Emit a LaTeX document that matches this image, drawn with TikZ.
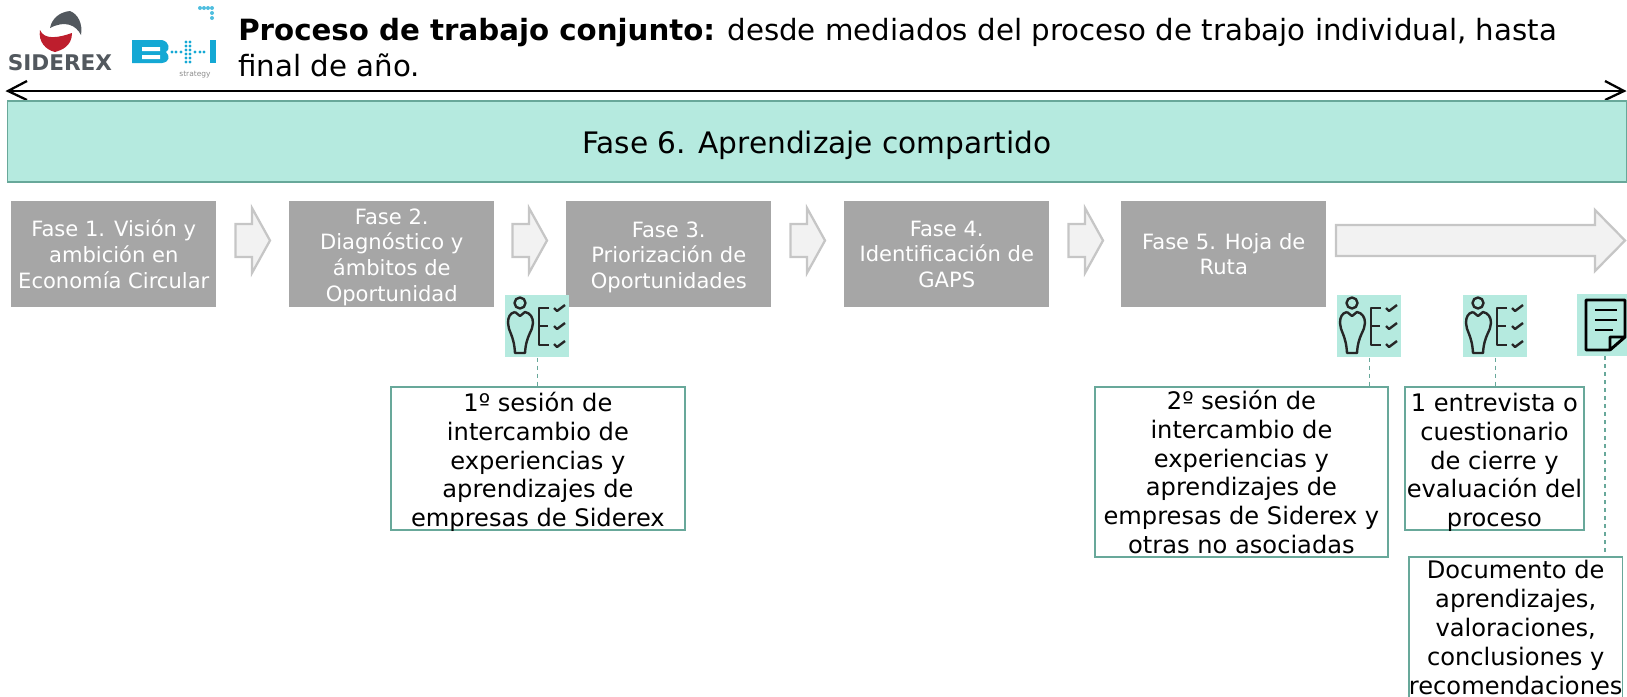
\documentclass[tikz,border=0pt]{standalone}
\usepackage{fontspec}
\setmainfont{DejaVu Sans}
\usepackage{tikz}
\definecolor{teal1}{RGB}{181,234,223}
\definecolor{teal2}{RGB}{104,168,154}
\definecolor{gray1}{RGB}{166,166,166}
\definecolor{arrowfill}{RGB}{242,242,242}
\definecolor{arrowline}{RGB}{198,198,198}
\definecolor{logogray}{RGB}{82,88,94}
\definecolor{logored}{RGB}{190,30,45}
\definecolor{logoblue}{RGB}{20,168,212}
\newlength{\pxu}
\setlength{\pxu}{.75pt}
\newcommand{\topgap}[1]{\rule{0pt}{#1}}
\tikzset{
  phasebox/.style={fill=gray1,text=white,minimum width=205\pxu,minimum height=106\pxu,inner sep=0pt,align=center,font=\fontsize{15.8}{19.2}\selectfont},
  notebox/.style={draw=teal2,line width=1.4pt,fill=white,inner sep=0pt,align=center,font=\fontsize{18.1}{21.6}\selectfont},
  iconbox/.style={fill=teal1,inner sep=0pt,minimum width=64\pxu,minimum height=62\pxu},
  tieline/.style={draw=teal2,dashed,line width=1.1pt},
  flecha/.style={draw=arrowline,fill=arrowfill,line width=1.7pt}
}
\newcommand{\smallflecha}[1]{\draw[flecha] (#1,224)--++(16.5,0)--++(0,-16)--++(18,32.5)--++(-18,32.5)--++(0,-16)--++(-16.5,0)--cycle;}
\newcommand{\workericon}[3]{
  \node[iconbox,anchor=north west] (#1) at (#2,#3) {};
  \begin{scope}[shift={(#2,#3)},line width=1.8pt,draw=black!85,line join=round]
    \draw (15,8) circle (5.5);
    \draw (10,17)--(15,21)--(20,17) .. controls (25,18) and (28,22) .. (28,28) .. controls (28,36) and (21,40) .. (20,58)--(10,58) .. controls (9,40) and (3,36) .. (3,28) .. controls (3,22) and (5,18) .. (10,17);
    \draw (44,13)--(34,13)--(34,50)--(44,50) (34,31)--(43,31);
    \foreach \y in {13,31,49}{
      \draw (49,\y)--(52,\y+3)--(60,\y-3);
    }
  \end{scope}
}
\begin{document}
\begin{tikzpicture}[x=.75pt,y=-.75pt]
\useasboundingbox (0,0) rectangle (1627,696);
% logos
\fill[logogray] (50,28) .. controls (52,18) and (60,12) .. (70,11) .. controls (78,14) and (83,24) .. (81,35) .. controls (76,25) and (65,20) .. (50,28)--cycle;
\fill[logored] (40,30) .. controls (44,40) and (58,38) .. (72,33) .. controls (72,46) and (62,50) .. (55,52) .. controls (46,50) and (38,42) .. (40,30)--cycle;
\node[inner sep=0pt,text=logogray,font=\fontsize{16.2}{15}\bfseries\selectfont] (siderexlogo) at (60,63) {SIDEREX};
\fill[logoblue] (132,40)--(162,40) .. controls (170,42) and (170,50) .. (166,52) .. controls (170,56) and (170,62) .. (162,63)--(132,63)--cycle;
\fill[white] (142,47) rectangle (160,51) (142,55) rectangle (160,59);
\fill[logoblue] (210,40) rectangle (216,63);
\foreach \x in {172,176,181,195,200,204}{
  \fill[logoblue] (\x,52) circle (1.6);
}
\foreach \y in {42,46,50,54,58,62}{
  \fill[logoblue] (186,\y) circle (1.7);
  \fill[logoblue] (190,\y) circle (1.7);
}
\foreach \x/\y in {200/8,204/8,208/8,212/8,212/13,212/18}{
  \fill[logoblue!75] (\x,\y) circle (2);
}
\node[inner sep=0pt,text=black!45,font=\fontsize{5.6}{6}\selectfont] (bilogo) at (195,75) {strategy};
% title
\node[anchor=base west,inner sep=0pt,font=\fontsize{21.95}{28}\selectfont] (titleone) at (238,40) {\textbf{Proceso de trabajo conjunto:} desde mediados del proceso de trabajo individual, hasta};
\node[anchor=base west,inner sep=0pt,font=\fontsize{21.95}{28}\selectfont] (titletwo) at (238,76) {final de año.};
\coordinate (arrowleft) at (8,91);
\coordinate (arrowright) at (1624,91);
\draw[line width=1.7pt] (arrowleft)--(arrowright);
\draw[line width=1.7pt] (27,81)--(arrowleft)--(27,100);
\draw[line width=1.7pt] (1605,81)--(arrowright)--(1605,100);
\node[anchor=north west,draw=teal2,line width=1.4pt,fill=teal1,inner sep=0pt,minimum width=1619\pxu,minimum height=81\pxu,font=\fontsize{22.2}{26}\selectfont] (fase6) at (6.5,100) {\topgap{22.5pt}Fase 6. Aprendizaje compartido};
% phases
\node[phasebox,anchor=north west] (fase1) at (11,201) {Fase 1. Visión y\\ambición en\\Economía Circular};
\node[phasebox,anchor=north west] (fase2) at (289,201) {\topgap{16pt}Fase 2.\\Diagnóstico y\\ámbitos de\\Oportunidad};
\node[phasebox,anchor=north west] (fase3) at (566,201) {\topgap{16pt}Fase 3.\\Priorización de\\Oportunidades};
\node[phasebox,anchor=north west] (fase4) at (844,201) {Fase 4.\\Identificación de\\GAPS};
\node[phasebox,anchor=north west] (fase5) at (1121,201) {Fase 5. Hoja de\\Ruta};
\foreach \x in {235.5,512.5,790.5,1068.5}{
  \smallflecha{\x}
}
\draw[flecha] (1336,225)--(1595,225)--(1595,210)--(1625,240.5)--(1595,271)--(1595,256)--(1336,256)--cycle;
% icons
\workericon{iconA}{505}{295}
\workericon{iconB}{1337}{295}
\workericon{iconC}{1463}{295}
\node[iconbox,anchor=north west,minimum width=52\pxu] (iconD) at (1577,294) {};
\draw[line width=2.2pt,line join=round] (1610,350)--(1586,350)--(1586,300)--(1625,300)--(1625,337)--(1610,350)--(1610,337)--(1625,337);
\draw[line width=2.2pt] (1595,310)--(1617,310) (1595,320)--(1617,320) (1595,330)--(1613,330);
% boxes
\node[notebox,anchor=north west,minimum width=294\pxu,minimum height=143\pxu] (sesion1) at (390,386) {\topgap{16pt}1º sesión de\\intercambio de\\experiencias y\\aprendizajes de\\\smash{empresas de Siderex}};
\node[notebox,anchor=north west,minimum width=293\pxu,minimum height=170\pxu] (sesion2) at (1094,386) {2º sesión de\\intercambio de\\experiencias y\\aprendizajes de\\empresas de Siderex y\\otras no asociadas};
\node[notebox,anchor=north west,minimum width=179\pxu,minimum height=143\pxu] (entrevista) at (1404,386) {\topgap{16pt}1 entrevista o\\cuestionario\\de cierre y\\evaluación del\\\smash{proceso}};
\node[notebox,anchor=north west,minimum width=210\pxu,minimum height=141\pxu] (documento) at (1408,556) {Documento de\\aprendizajes,\\valoraciones,\\conclusiones y\\recomendaciones};
% dashed ties
\coordinate (tieD) at (1605,356);
\draw[tieline] (iconA.south)--(iconA.south |- sesion1.north);
\draw[tieline] (iconB.south)--(iconB.south |- sesion2.north);
\draw[tieline] (iconC.south)--(iconC.south |- entrevista.north);
\draw[tieline] (tieD)--(tieD |- documento.north);
\end{tikzpicture}
\end{document}
